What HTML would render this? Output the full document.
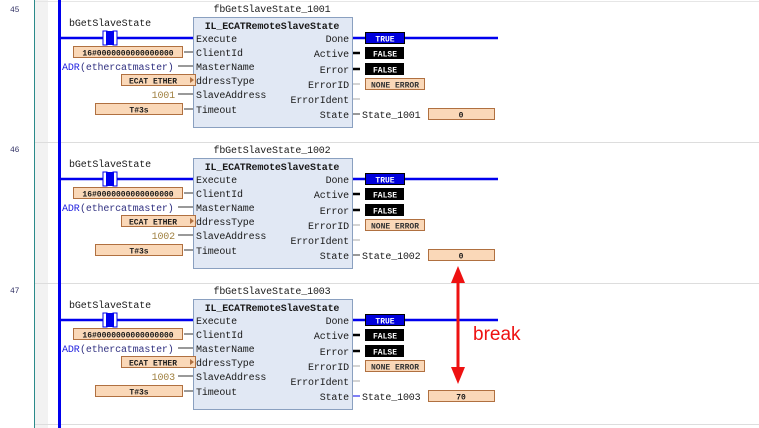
<!DOCTYPE html>
<html><head><meta charset="utf-8"><style>
html,body{margin:0;padding:0;background:#fff;width:759px;height:428px;overflow:hidden}
svg{display:block}
text{font-family:"Liberation Mono",monospace;font-size:10px;letter-spacing:-0.15px;fill:#1a1a1a}
.b{font-weight:bold}
.s{font-size:8px;font-weight:bold;letter-spacing:0}
</style></head><body>
<svg width="759" height="428" viewBox="0 0 759 428">
<rect x="35" y="0" width="13" height="428" fill="#f2f2f2"/>
<line x1="34.5" y1="0" x2="34.5" y2="428" stroke="#2a8a8a" stroke-width="1"/>
<line x1="35" y1="1.5" x2="759" y2="1.5" stroke="#e6e6e6"/>
<line x1="35" y1="142.5" x2="759" y2="142.5" stroke="#ddd"/>
<line x1="35" y1="283.5" x2="759" y2="283.5" stroke="#ddd"/>
<line x1="35" y1="424.5" x2="759" y2="424.5" stroke="#ddd"/>
<rect x="58" y="0" width="3" height="428" fill="#0000ee"/>
<text x="10" y="12" style="font-size:8px;fill:#336">45</text>
<text x="10" y="152" style="font-size:8px;fill:#336">46</text>
<text x="10" y="293" style="font-size:8px;fill:#336">47</text>

<defs>
<g id="net">
  <line x1="60" y1="38" x2="193" y2="38" stroke="#0000ee" stroke-width="2.5"/>
  <rect x="103" y="31" width="4" height="14" fill="#fff" stroke="#0000ee"/>
  <rect x="113" y="31" width="4" height="14" fill="#fff" stroke="#0000ee"/>
  <rect x="106" y="31" width="8" height="14" fill="#0000ee"/>
  <text x="69" y="26">bGetSlaveState</text>
  <rect x="193.5" y="17.5" width="159" height="110" fill="#e1e8f4" stroke="#8aa0c0"/>
  <text x="272" y="29" text-anchor="middle" class="b">IL_ECATRemoteSlaveState</text>
  <text x="196" y="42">Execute</text>
  <text x="196" y="56">ClientId</text>
  <text x="196" y="70">MasterName</text>
  <text x="196" y="84">ddressType</text>
  <text x="196" y="98">SlaveAddress</text>
  <text x="196" y="113">Timeout</text>
  <text x="349" y="42" text-anchor="end">Done</text>
  <text x="349" y="57" text-anchor="end">Active</text>
  <text x="349" y="73" text-anchor="end">Error</text>
  <text x="349" y="88" text-anchor="end">ErrorID</text>
  <text x="349" y="103" text-anchor="end">ErrorIdent</text>
  <text x="349" y="118" text-anchor="end">State</text>
  <line x1="184" y1="52" x2="193" y2="52" stroke="#333"/>
  <line x1="178" y1="66" x2="193" y2="66" stroke="#333"/>
  <line x1="178" y1="94" x2="193" y2="94" stroke="#333"/>
  <line x1="184" y1="109" x2="193" y2="109" stroke="#333"/>
  <rect x="73.5" y="46.5" width="109" height="11" fill="#fad8b8" stroke="#b07040"/>
  <text x="128" y="55.5" text-anchor="middle" class="s">16#0000000000000000</text>
  <text x="62" y="70" style="fill:#2020e0">ADR</text><text x="80" y="70" style="fill:#303080">(ethercatmaster)</text>
  <rect x="121.5" y="74.5" width="74" height="11" fill="#fad8b8" stroke="#b07040"/>
  <text x="153" y="83.5" text-anchor="middle" class="s">ECAT ETHER</text>
  <path d="M190 77 L194 80 L190 83 Z" fill="#b07040"/>
  <rect x="95.5" y="103.5" width="87" height="11" fill="#fad8b8" stroke="#b07040"/>
  <text x="139" y="112.5" text-anchor="middle" class="s">T#3s</text>
  <line x1="353" y1="38" x2="498" y2="38" stroke="#0000ee" stroke-width="2.5"/>
  <rect x="365.5" y="32.5" width="39" height="11" fill="#0000dd" stroke="#000"/>
  <text x="385" y="41.5" text-anchor="middle" class="s" style="fill:#fff">TRUE</text>
  <line x1="353" y1="53" x2="360" y2="53" stroke="#000" stroke-width="2.5"/>
  <rect x="365" y="47" width="39" height="12" fill="#000"/>
  <text x="385" y="56.5" text-anchor="middle" class="s" style="fill:#fff">FALSE</text>
  <line x1="353" y1="69" x2="360" y2="69" stroke="#000" stroke-width="2.5"/>
  <rect x="365" y="63" width="39" height="12" fill="#000"/>
  <text x="385" y="72.5" text-anchor="middle" class="s" style="fill:#fff">FALSE</text>
  <line x1="353" y1="84" x2="360" y2="84" stroke="#aaa"/>
  <rect x="365.5" y="78.5" width="59" height="11" fill="#fad8b8" stroke="#b07040"/>
  <text x="395" y="87.5" text-anchor="middle" class="s" style="fill:#333">NONE ERROR</text>
  <line x1="353" y1="99" x2="360" y2="99" stroke="#aaa"/>
  <rect x="428.5" y="108.5" width="66" height="11" fill="#fad8b8" stroke="#b07040"/>
</g>
</defs>

<use href="#net"/>
<use href="#net" y="141"/>
<use href="#net" y="282"/>

<text x="272" y="12" text-anchor="middle">fbGetSlaveState_1001</text>
<text x="272" y="153" text-anchor="middle">fbGetSlaveState_1002</text>
<text x="272" y="294" text-anchor="middle">fbGetSlaveState_1003</text>
<text x="175" y="98" text-anchor="end" style="fill:#a08040">1001</text>
<text x="175" y="239" text-anchor="end" style="fill:#a08040">1002</text>
<text x="175" y="380" text-anchor="end" style="fill:#a08040">1003</text>

<line x1="353" y1="114" x2="360" y2="114" stroke="#333"/>
<text x="362" y="118">State_1001</text>
<text x="461" y="117.5" text-anchor="middle" class="s">0</text>
<line x1="353" y1="255" x2="360" y2="255" stroke="#333"/>
<text x="362" y="259">State_1002</text>
<text x="461" y="258.5" text-anchor="middle" class="s">0</text>
<line x1="353" y1="396" x2="360" y2="396" stroke="#0000ee"/>
<text x="362" y="400">State_1003</text>
<text x="461" y="399.5" text-anchor="middle" class="s">70</text>

<line x1="458" y1="280" x2="458" y2="370" stroke="#ee1111" stroke-width="3"/>
<path d="M451 283 L458 266 L465 283 Z" fill="#ee1111"/>
<path d="M451 367 L458 384 L465 367 Z" fill="#ee1111"/>
<text x="473" y="340" style="font-family:'Liberation Sans',sans-serif;font-size:19px;letter-spacing:0;fill:#ee1111">break</text>
</svg>
</body></html>
